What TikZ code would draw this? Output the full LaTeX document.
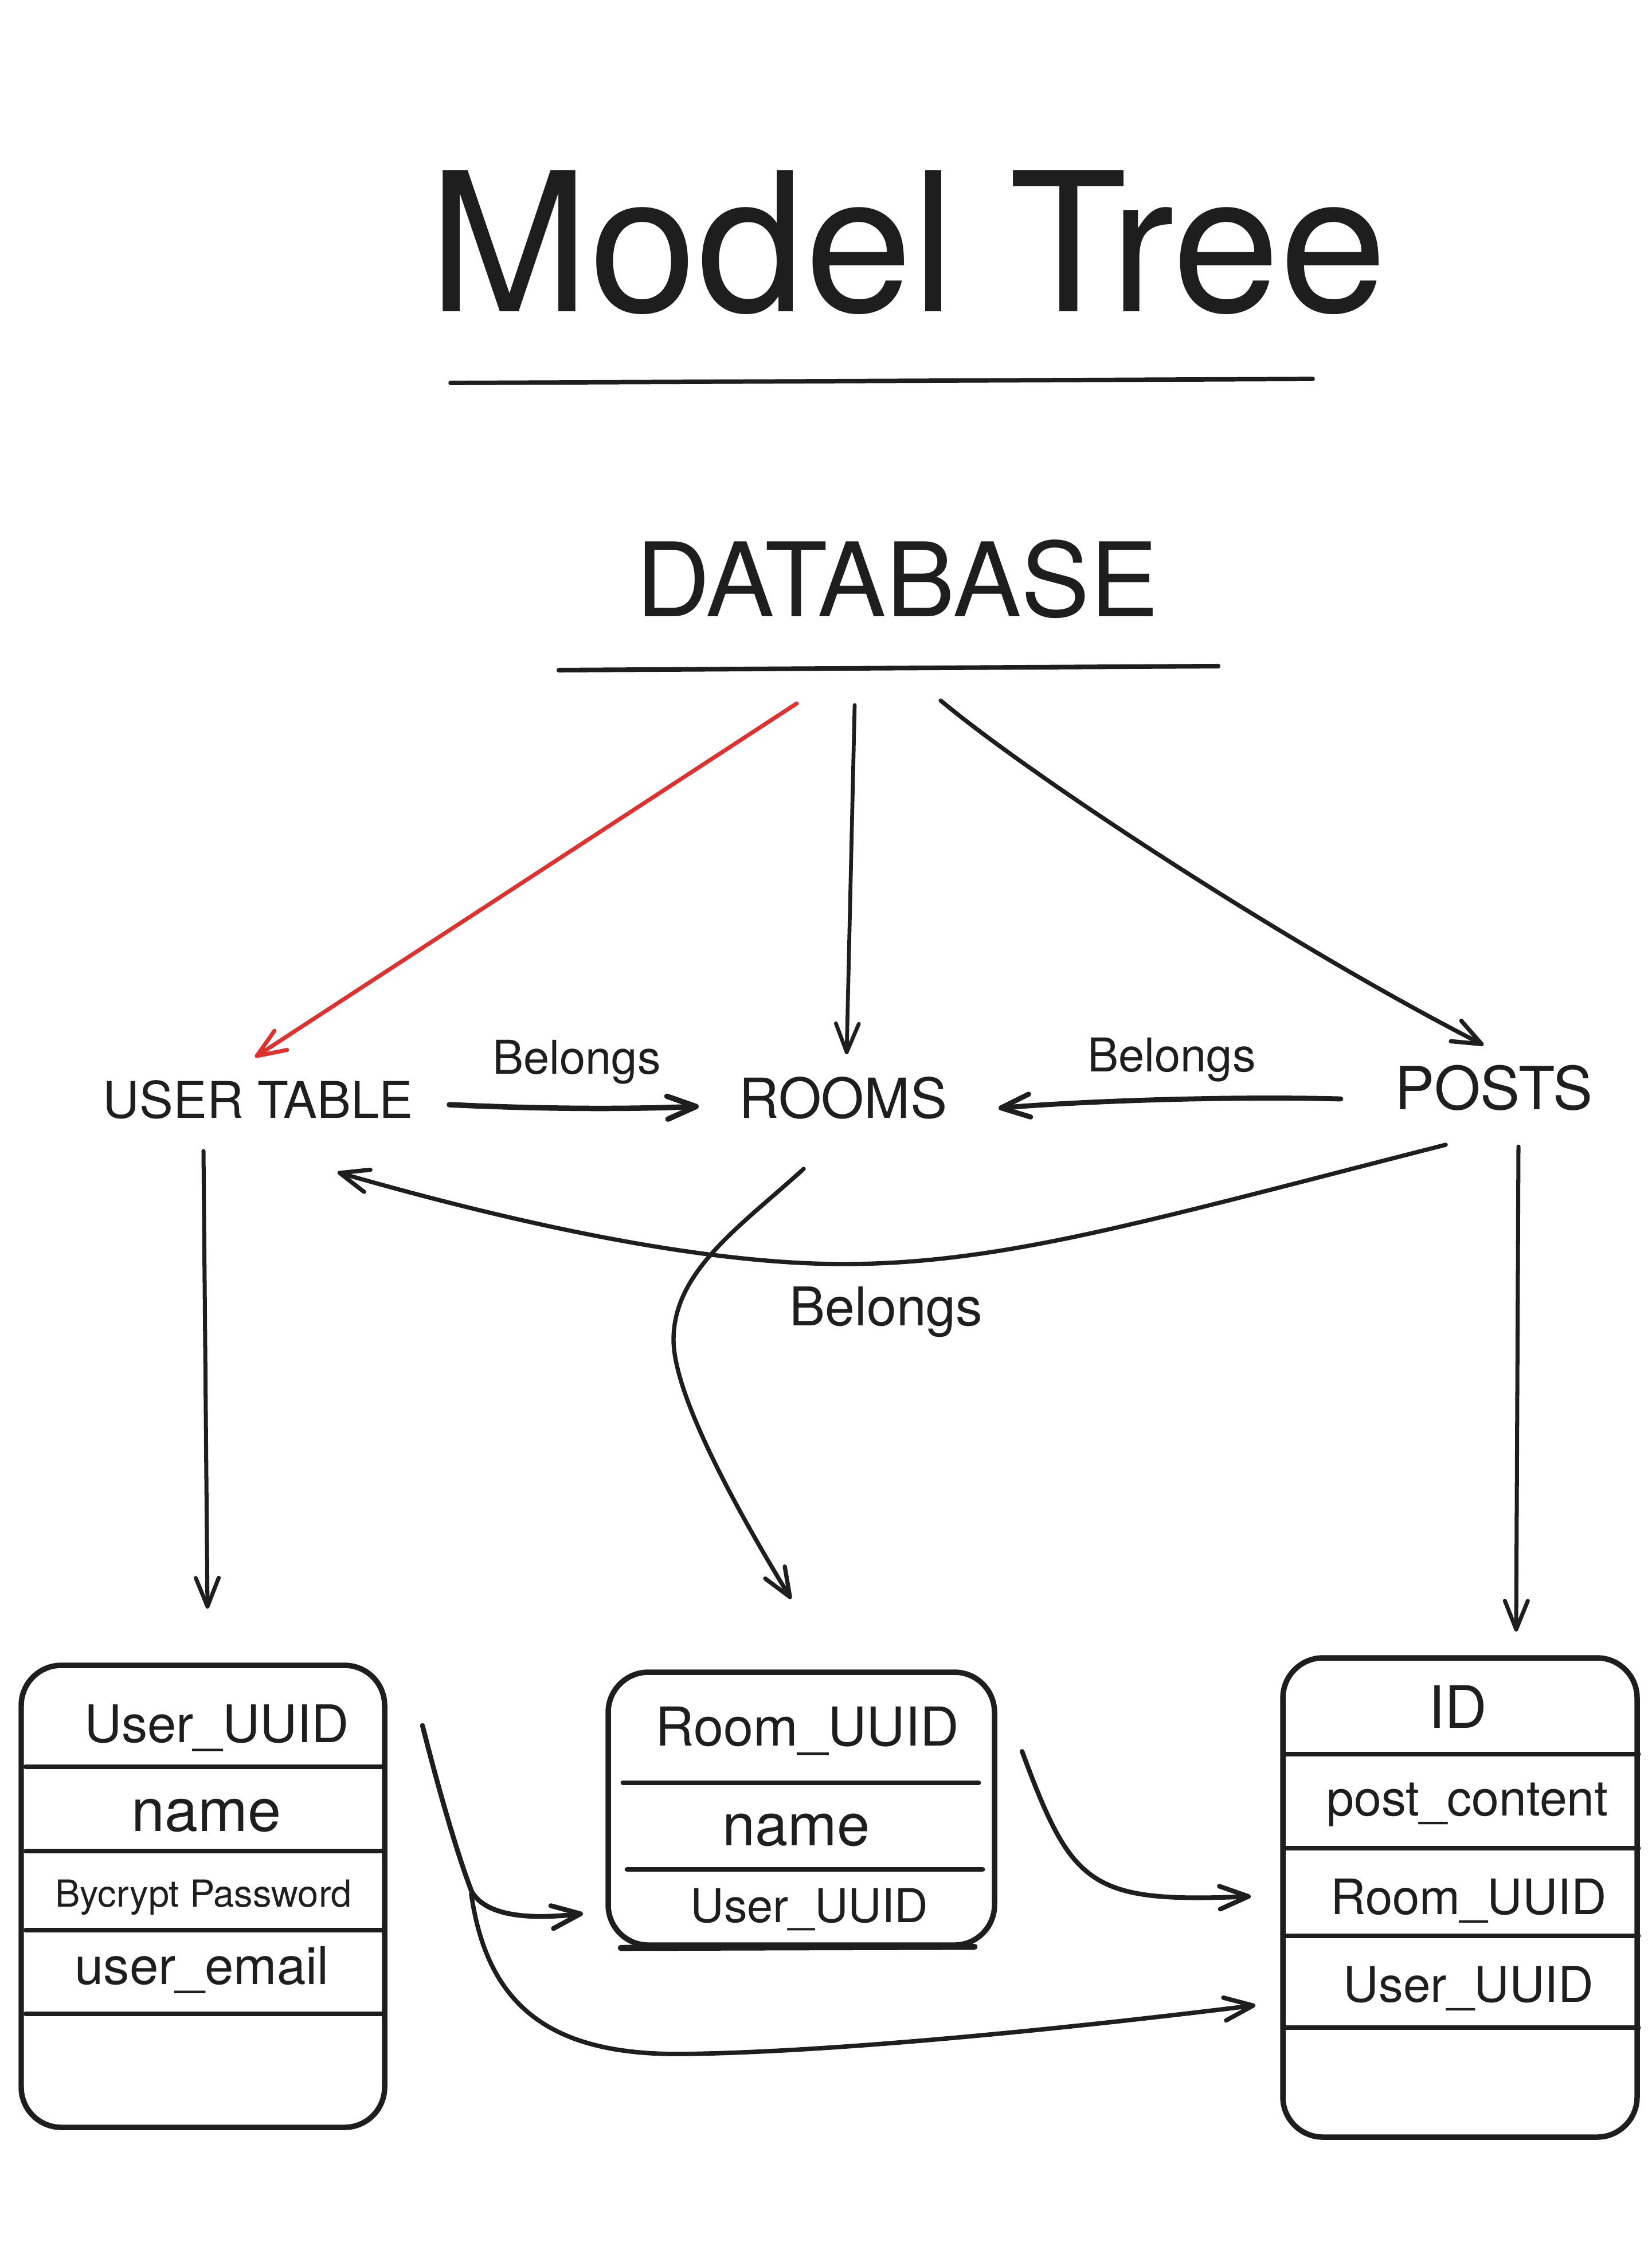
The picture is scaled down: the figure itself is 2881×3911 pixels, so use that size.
\documentclass[tikz,border=0pt]{standalone}
\usepackage{fontspec}
\setmainfont{TeX Gyre Heros}
\usetikzlibrary{arrows.meta,positioning}
\definecolor{ink}{RGB}{30,30,30}
\definecolor{alert}{RGB}{224,49,49}
\tikzset{
  >={Straight Barb[length=5mm,width=4mm,round]},
  txt/.style={inner sep=0pt,anchor=base,text=ink,font=\fontsize{#1}{#1}\selectfont},
  tablebox/.style={draw=ink,line width=2.7pt,rounded corners=7mm,inner sep=0pt,outer sep=0pt},
  link/.style={->,draw=ink,line width=#1,line cap=round},
  link/.default=2.2pt,
  rowline/.style={draw=ink,line width=2.5pt,line cap=round},
}

\begin{document}
\begin{tikzpicture}[x=0.1mm,y=-0.1mm]
  \useasboundingbox[fill=white] (0,0) rectangle (2881,3911);
  % headings
  \node[txt=96] (title) at (1584,544) {Model Tree};
  \draw[rowline,line width=2.2pt] (786,668) -- (2290,661);
  \node[txt=51] (db) at (1565,1075) {DATABASE};
  \draw[rowline,line width=2.3pt] (975,1169) -- (2125,1162);
  % tables
  \node[txt=25.1] (users) at (450,1950) {USER TABLE};
  \node[txt=27.4] (rooms) at (1471,1950) {ROOMS};
  \node[txt=29.5] (posts) at (2606,1935) {POSTS};
  \node[txt=23.1] (bel1) at (1006,1873) {Belongs};
  \node[txt=23.1] (bel2) at (2044,1869) {Belongs};
  \node[txt=26.5] (bel3) at (1546,2312) {Belongs};
  % record boxes
  \node[tablebox,minimum width=63.4mm,minimum height=80.6mm] (userbox) at (354,3308) {};
  \node[tablebox,minimum width=67.4mm,minimum height=47.6mm] (roombox) at (1398,3155) {};
  \node[tablebox,minimum width=61.8mm,minimum height=83.6mm] (postbox) at (2547,3310) {};
  \draw[rowline,line width=3pt] (1083,3398) -- (1700,3396);
  \foreach \y in {3082,3229,3367,3513} \draw[rowline] (45,\y) -- (666,\y);
  \foreach \y/\a/\b in {3110/1087/1707,3261/1094/1714} \draw[rowline] (\a,\y) -- (\b,\y);
  \foreach \y in {3060,3224,3377,3537} \draw[rowline] (2240,\y) -- (2858,\y);
  \foreach \t/\s/\x/\y [count=\i] in {User\_UUID/25.7/378/3039,name/29.7/360/3194,
      Bycrypt Password/18.5/355/3326,user\_email/25.8/352/3461}
    \node[txt=\s] (u\i) at (\x,\y) {\t};
  \foreach \t/\s/\x/\y [count=\i] in {Room\_UUID/26.6/1408/3045,name/29.3/1389/3219,
      User\_UUID/23.1/1412/3353}
    \node[txt=\s] (r\i) at (\x,\y) {\t};
  \foreach \t/\s/\x/\y [count=\i] in {ID/29/2543/3014,post\_content/24.5/2560/3167,
      Room\_UUID/24.2/2562/3339,User\_UUID/24.3/2562/3492}
    \node[txt=\s] (p\i) at (\x,\y) {\t};
  % database to tables
  \draw[link=2pt,draw=alert] ([shift={(-175,152)}]db.base) -- ([shift={(-5,-106)}]users.base);
  \draw[link=1.9pt] ([shift={(-74,155)}]db.base) -- ([shift={(6,-111)}]rooms.base);
  \draw[link=2.1pt] ([shift={(76,147)}]db.base) .. controls +(159,133) and +(-338,-173) .. ([shift={(-18,-112)}]posts.base);
  % belongs links
  \draw[link=2.7pt] ([shift={(334,-23)}]users.base) .. controls +(166,8) and +(-119,5) .. ([shift={(-252,-20)}]rooms.base);
  \draw[link=2.5pt] ([shift={(-267,-18)}]posts.base) .. controls +(-189,-5) and +(158,-13) .. ([shift={(271,-17)}]rooms.base);
  \draw[link=2.1pt] ([shift={(-84,62)}]posts.base) .. controls +(-522,133) and +(279,0) .. (1471,2205)
    .. controls +(-271,0) and +(261,75) .. ([shift={(139,95)}]users.base);
  % tables to boxes
  \draw[link=2pt] ([shift={(-95,58)}]users.base) -- ([shift={(8,-99)}]userbox.north);
  \draw[link=2.1pt] ([shift={(-69,89)}]rooms.base) .. controls +(-110,100) and +(0,-120) .. (1175,2337)
    .. controls +(0,103) and +(-80,-131) .. ([shift={(-18,-128)}]roombox.north);
  \draw[link=2pt] ([shift={(43,65)}]posts.base) -- ([shift={(98,-46)}]postbox.north);
  % keys between boxes
  \draw[link=2.4pt] ([shift={(66,-298)}]userbox.east) .. controls +(33,130) and +(-23,-60) .. (823,3300)
    .. controls +(27,45) and +(-87,10) .. ([shift={(-44,183)}]roombox.west);
  \draw[link=2.2pt] ([shift={(151,-5)}]userbox.east) .. controls +(28,197) and +(-230,2) .. (1190,3583)
    .. controls +(260,-3) and +(-340,42) .. ([shift={(-48,188)}]postbox.west);
  \draw[link=2.3pt] ([shift={(48,-100)}]roombox.east) .. controls +(87,235) and +(-282,12) .. ([shift={(-56,-2)}]postbox.west);
\end{tikzpicture}
\end{document}
